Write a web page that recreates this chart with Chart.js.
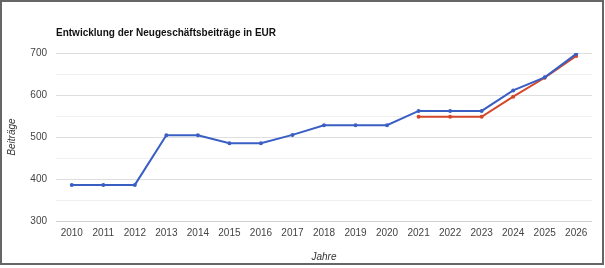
<!DOCTYPE html>
<html>
<head>
<meta charset="utf-8">
<script src="https://cdn.jsdelivr.net/npm/chart.js@4"></script>
<style>
  body { margin: 0; background: #fff; }
  #rahmen { position: absolute; left: 0; top: 0; width: 600px; height: 261px; border: 2px solid #666; }
  #box { position: absolute; left: 0; top: 0; width: 605px; height: 268px; }
</style>
</head>
<body>
<div id="rahmen"></div>
<div id="box"><canvas id="myChart" width="605" height="268"></canvas></div>
<script>
// Jahre und Beiträge
const jahre = ['2010', '2011', '2012', '2013', '2014', '2015', '2016', '2017', '2018',
  '2019', '2020', '2021', '2022', '2023', '2024', '2025', '2026'];
const beitraege = [386, 386, 386, 504, 504, 485, 485, 505, 528, 528, 528, 562, 562, 562, 611, 642, 698];
const prognose = [null, null, null, null, null, null, null, null, null, null, null,
  548, 548, 548, 596, 641, 693];
const yTicks = [300, 400, 500, 600, 700];

const ctx = document.getElementById('myChart');
new Chart(ctx, {
  type: 'line',
  data: {
    labels: jahre,
    datasets: [{
      label: 'Beiträge',
      data: beitraege,
      borderColor: '#3a5fc4',
      backgroundColor: '#3a5fc4',
      borderWidth: 2,
      pointRadius: 1,
      tension: 0
    }, {
      label: 'Prognose',
      data: prognose,
      borderColor: '#d4472a',
      backgroundColor: '#d4472a',
      borderWidth: 2,
      pointRadius: 1,
      tension: 0
    }]
  },
  options: {
    responsive: false,
    animation: false,
    layout: { padding: { left: 2, right: 13, top: 0, bottom: 1 } },
    plugins: {
      legend: { display: false },
      tooltip: { enabled: false },
      title: {
        display: true,
        text: 'Entwicklung der Neugeschäftsbeiträge in EUR',
        align: 'start',
        fullSize: false,
        color: '#111',
        font: { family: 'Arial, "Liberation Sans"', size: 10, weight: 'bold' },
        padding: { top: 27, bottom: 14 }
      }
    },
    scales: {
      x: {
        offset: true,
        grid: { display: false, drawTicks: false },
        border: { display: false },
        ticks: {
          color: '#444', padding: 6, maxRotation: 0, autoSkip: false,
          font: { family: 'Arial, "Liberation Sans"', size: 10 }
        },
        title: {
          display: true, text: 'Jahre', color: '#333',
          font: { family: 'Arial, "Liberation Sans"', size: 10, style: 'italic' }
        },
        afterFit: (s) => { s.height = 46; }
      },
      y: {
        min: 300,
        max: 700,
        grid: {
          drawTicks: false,
          color: (c) => c.tick.value === 300 ? '#cfcfcf' : (c.tick.value % 100 === 0 ? '#dedede' : '#f0f0f0')
        },
        border: { display: false },
        ticks: {
          stepSize: 50,
          color: '#444', padding: 9,
          font: { family: 'Arial, "Liberation Sans"', size: 10 },
          callback: (v) => yTicks.includes(v) ? v : ''
        },
        title: {
          display: true, text: 'Beiträge', color: '#333',
          font: { family: 'Arial, "Liberation Sans"', size: 10, style: 'italic' }
        },
        afterFit: (s) => { s.width = 54; }
      }
    }
  }
});
</script>
</body>
</html>
